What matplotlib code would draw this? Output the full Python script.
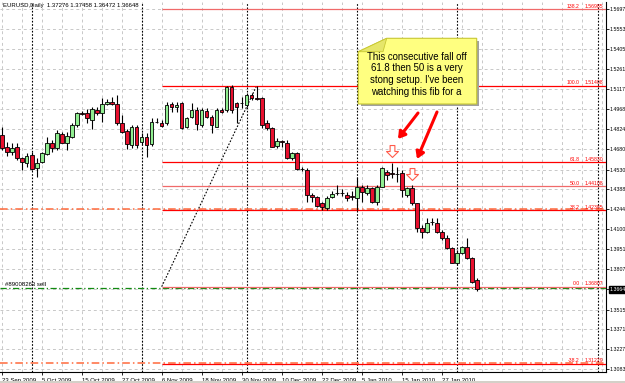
import matplotlib
matplotlib.use('Agg')
import matplotlib.pyplot as plt
from matplotlib.path import Path
from matplotlib.patches import Polygon, Rectangle, FancyArrowPatch
from matplotlib.transforms import blended_transform_factory
import numpy as np

W, H = 625, 383
plt.rcParams['font.family'] = ['Liberation Sans', 'DejaVu Sans']

# EURUSD daily bars, 23 Sep 2009 .. 5 Feb 2010
opens = [1.4782, 1.4693, 1.4661, 1.4693, 1.4613, 1.4581, 1.4637, 1.4540, 1.4588, 1.4644,
         1.4722, 1.4686, 1.4789, 1.4722, 1.4770, 1.4855, 1.4940, 1.4940, 1.4891, 1.4964,
         1.4940, 1.5005, 1.5024, 1.5007, 1.4867, 1.4811, 1.4709, 1.4838, 1.4734, 1.4770,
         1.4717, 1.4879, 1.4871, 1.4867, 1.5007, 1.4983, 1.5012, 1.4842, 1.4915, 1.4964,
         1.4855, 1.4959, 1.4915, 1.4842, 1.4964, 1.4964, 1.5133, 1.5012, 1.5012, 1.5000,
         1.5073, 1.5049, 1.5049, 1.4871, 1.4831, 1.4702, 1.4741, 1.4726, 1.4613, 1.4650,
         1.4533, 1.4528, 1.4346, 1.4330, 1.4286, 1.4250, 1.4330, 1.4363, 1.4363, 1.4346,
         1.4339, 1.4322, 1.4407, 1.4360, 1.4396, 1.4298, 1.4407, 1.4511, 1.4504, 1.4499,
         1.4504, 1.4346, 1.4395, 1.4286, 1.4104, 1.4080, 1.4148, 1.4145, 1.4080, 1.4032,
         1.3959, 1.3855, 1.3927, 1.3967, 1.3887, 1.37276]
highs = [1.4842, 1.4734, 1.4722, 1.4722, 1.4621, 1.4650, 1.4661, 1.4613, 1.4661, 1.4770,
         1.4746, 1.4818, 1.4806, 1.4806, 1.4871, 1.4951, 1.4959, 1.4969, 1.4988, 1.4983,
         1.5049, 1.5041, 1.5060, 1.5073, 1.4927, 1.4823, 1.4855, 1.4855, 1.4794, 1.4794,
         1.4903, 1.4903, 1.4891, 1.5024, 1.5024, 1.5024, 1.5024, 1.4915, 1.5012, 1.4983,
         1.4976, 1.4976, 1.4927, 1.4976, 1.4976, 1.5138, 1.5145, 1.5024, 1.5060, 1.5089,
         1.5085, 1.5138, 1.5060, 1.4891, 1.4842, 1.4758, 1.4746, 1.4746, 1.4661, 1.4661,
         1.4550, 1.4540, 1.4358, 1.4339, 1.4298, 1.4340, 1.4376, 1.4419, 1.4390, 1.4368,
         1.4376, 1.4480, 1.4419, 1.4419, 1.4407, 1.4419, 1.4552, 1.4528, 1.4581, 1.4552,
         1.4528, 1.4407, 1.4419, 1.4286, 1.4128, 1.4177, 1.4177, 1.4177, 1.4092, 1.4056,
         1.3971, 1.3947, 1.3976, 1.4032, 1.3893, 1.37458]
lows = [1.4673, 1.4630, 1.4637, 1.4600, 1.4528, 1.4552, 1.4528, 1.4479, 1.4576, 1.4637,
        1.4661, 1.4673, 1.4722, 1.4673, 1.4758, 1.4838, 1.4927, 1.4867, 1.4824, 1.4927,
        1.4879, 1.5000, 1.5000, 1.4855, 1.4799, 1.4678, 1.4686, 1.4686, 1.4709, 1.4625,
        1.4702, 1.4867, 1.4842, 1.4855, 1.4951, 1.4951, 1.4823, 1.4831, 1.4903, 1.4818,
        1.4842, 1.4903, 1.4799, 1.4838, 1.4940, 1.4949, 1.4940, 1.4869, 1.4976, 1.4988,
        1.5036, 1.5036, 1.4831, 1.4818, 1.4693, 1.4686, 1.4697, 1.4606, 1.4600, 1.4528,
        1.4523, 1.4298, 1.4298, 1.4258, 1.4237, 1.4240, 1.4325, 1.4346, 1.4338, 1.4300,
        1.4310, 1.4237, 1.4298, 1.4346, 1.4286, 1.4274, 1.4407, 1.4455, 1.4468, 1.4443,
        1.4334, 1.4334, 1.4274, 1.4080, 1.4032, 1.4068, 1.4128, 1.4068, 1.4020, 1.3952,
        1.3850, 1.3838, 1.3918, 1.3880, 1.3710, 1.36472]
closes = [1.4686, 1.4661, 1.4686, 1.4613, 1.4584, 1.4632, 1.4533, 1.4576, 1.4650, 1.4722,
          1.4686, 1.4799, 1.4726, 1.4775, 1.4855, 1.4940, 1.4938, 1.4903, 1.4969, 1.4940,
          1.5007, 1.5024, 1.5005, 1.4867, 1.4806, 1.4717, 1.4838, 1.4709, 1.4770, 1.4709,
          1.4879, 1.4877, 1.4847, 1.5000, 1.4983, 1.5000, 1.4831, 1.4903, 1.4964, 1.4862,
          1.4964, 1.4915, 1.4855, 1.4964, 1.4951, 1.5133, 1.4964, 1.4988, 1.5011, 1.5073,
          1.5049, 1.5047, 1.4855, 1.4831, 1.4697, 1.4741, 1.4734, 1.4613, 1.4650, 1.4533,
          1.4532, 1.4346, 1.4330, 1.4267, 1.4258, 1.4322, 1.4354, 1.4361, 1.4358, 1.4322,
          1.4330, 1.4407, 1.4371, 1.4396, 1.4298, 1.4407, 1.4540, 1.4492, 1.4502, 1.4499,
          1.4383, 1.4395, 1.4286, 1.4104, 1.4080, 1.4141, 1.4147, 1.4080, 1.4032, 1.3959,
          1.3855, 1.3927, 1.3967, 1.3887, 1.3717, 1.36648]

# time axis
date_idx = [0, 8, 16, 24, 32, 40, 48, 56, 64, 72, 80, 88]
date_labels = ['23 Sep 2009', '5 Oct 2009', '15 Oct 2009', '27 Oct 2009', '6 Nov 2009',
               '18 Nov 2009', '30 Nov 2009', '10 Dec 2009', '22 Dec 2009', '5 Jan 2010',
               '15 Jan 2010', '27 Jan 2010']
month_sep = [6, 28, 49, 71, 91, 119.2]   # period separators (1st bar of month)

# price axis
price_ticks = [1.5697, 1.5553, 1.5405, 1.5261, 1.5117, 1.4968, 1.4824, 1.4680, 1.4530,
               1.4388, 1.4244, 1.4100, 1.3951, 1.3807, 1.3664, 1.3515, 1.3371, 1.3227, 1.3083]
bid = 1.3664

# fibonacci object: anchored at 6 Nov (0.0) and 3 Dec (100.0)
fib_start, fib_end = 32, 51
fib_pct = ['138.2', '100.0', '61.8', '50.0', '38.2', '0.0', '-38.2']
fib_price = [1.56985, 1.51408, 1.45830, 1.44108, 1.42385, 1.36807, 1.31229]
fib_color = ['#f06a6a', '#ff0000', '#ff0000', '#f06a6a', '#ff0000', '#f06a6a', '#ff0000']

# order lines
stop_lines = [1.4244, 1.3123]
order_price = 1.3672
order_label = '#89008263 sell'

# sell arrows (bar, price)
sell_bars = [78, 82]
sell_prices = [1.4666, 1.4499]

fig = plt.figure(figsize=(W / 100, H / 100), dpi=100)
ax = fig.add_axes([0, 11 / H, 605.5 / W, 370 / H])

x = np.arange(len(opens))
o = np.array(opens); c = np.array(closes)
up = c >= o
body_col = np.where(up, '#90ee90', '#e8102e')

ax.vlines(x, lows, highs, color='black', lw=0.8, zorder=4)
ax.bar(x, c - o, bottom=o, width=0.72, color=body_col, edgecolor='black',
       linewidth=0.6, zorder=5)

xl = (-0.34, 120.76)
ax.set_xlim(*xl)
ax.set_ylim(1.30612, 1.57478)

# grid
for gx in range(0, 121, 4):
    ax.axvline(gx, color='#c8c8c8', lw=0.7, ls=(0, (3, 3)), zorder=1)
for gy in price_ticks:
    ax.axhline(gy, color='#c8c8c8', lw=0.7, ls=(0, (3, 3)), zorder=1)
for sx in month_sep:
    ax.axvline(sx, color='black', lw=0.8, ls=(0, (1.5, 1.5)), zorder=2)

# fibonacci
ax.plot([fib_start, fib_end], [fib_price[5], fib_price[1]], color='black', lw=0.8,
        ls=(0, (1.5, 1.5)), zorder=3)
ax.hlines(fib_price, fib_start, xl[1], colors=fib_color, lw=0.9, zorder=3)
tr = blended_transform_factory(ax.transAxes, ax.transData)
for pct, pr in zip(fib_pct, fib_price):
    ax.text(603 / 605.5, pr + 0.0002, format(pr, '.5f'), transform=tr, ha='right',
            va='bottom', fontsize=3.7, color='red')
    ax.text(580 / 605.5, pr + 0.0002, pct, transform=tr, ha='right', va='bottom',
            fontsize=3.7, color='red')

# stop / order lines
for sp in stop_lines:
    ax.axhline(sp, color='#ff6a3c', lw=1.1, ls=(0, (5, 2, 1, 2)), zorder=2)
ax.axhline(order_price, color='#108a10', lw=0.9, ls=(0, (5, 2, 1, 2)), zorder=2)
ax.text(5 / 605.5, order_price + 0.0006, order_label, transform=tr, ha='left',
        va='bottom', fontsize=4.3, color='black')

# sell arrows
arrow = Path([(-0.2, 0.5), (0.2, 0.5), (0.2, 0.0), (0.5, 0.0), (0.0, -0.5),
              (-0.5, 0.0), (-0.2, 0.0), (-0.2, 0.5)],
             [Path.MOVETO] + [Path.LINETO] * 6 + [Path.CLOSEPOLY])
ax.plot(sell_bars, sell_prices, ls='none', marker=arrow, markersize=8.6,
        markerfacecolor='white', markeredgecolor='#ff5a4a', markeredgewidth=0.8, zorder=6)

# axes styling
for s in ['top', 'left']:
    ax.spines[s].set_visible(False)
ax.spines['right'].set_linewidth(0.8)
ax.spines['bottom'].set_linewidth(0.8)
ax.yaxis.tick_right()
ax.set_yticks(price_ticks)
ax.set_yticklabels(['%.4f' % t for t in price_ticks])
ax.tick_params(axis='y', length=2, width=0.6, pad=0.8, labelsize=3.8)
ax.set_xticks(date_idx)
ax.set_xticklabels(date_labels, ha='left')
ax.tick_params(axis='x', length=2.5, width=0.6, pad=1.5, labelsize=4.3)
for lab, t in zip(ax.get_yticklabels(), price_ticks):
    if t == bid:
        lab.set_color('white')
        lab.set_bbox(dict(facecolor='black', edgecolor='black', pad=0.4))


def px(xp, yp):
    return (xp / W, 1 - yp / H)


fig.text(*px(3, 5), 'EURUSD,Daily  1.37276 1.37458 1.36472 1.36648', ha='left',
         va='center', fontsize=4.3, color='black')

# note box
shadow = [px(361, 54), px(389, 41), px(479, 41), px(479, 106), px(361, 106)]
fig.add_artist(Polygon(shadow, closed=True, transform=fig.transFigure,
                       facecolor='#a0a0a0', edgecolor='none', zorder=7))
note = [px(358.3, 51.7), px(386.7, 38.3), px(476.7, 38.3), px(476.7, 104), px(358.3, 104)]
fig.add_artist(Polygon(note, closed=True, transform=fig.transFigure,
                       facecolor='#ffff80', edgecolor='#c8c832', lw=0.8, zorder=8))
fold = [px(358.3, 51.7), px(386.7, 38.3), px(383, 51.7)]
fig.add_artist(Polygon(fold, closed=True, transform=fig.transFigure,
                       facecolor='#e6e66a', edgecolor='#c8c832', lw=0.6, zorder=9))
note_lines = ['This consecutive fall off', '61.8 then 50 is a very',
              "stong setup. I've been", 'watching this fib for a']
for k, ln in enumerate(note_lines):
    fig.text(*px(416.7, 56.7 + 11.7 * k), ln, ha='center', va='center', fontsize=6.9,
             color='black', zorder=10)

# red pointer arrows
for (x0, y0), (x1, y1) in [((418, 113), (398, 139)), ((437, 112), (417, 159))]:
    fig.add_artist(FancyArrowPatch(px(x0, y0), px(x1, y1), transform=fig.transFigure,
                                   arrowstyle='-|>,head_length=4,head_width=2.5',
                                   color='#ff0000', lw=2.2, zorder=9,
                                   shrinkA=0, shrinkB=0))

# window frame
fig.add_artist(Rectangle((0, 0), 1, 2.5 / H, transform=fig.transFigure,
                         facecolor='#d4d0c8', edgecolor='none'))

fig.savefig('out.png', dpi=100)
